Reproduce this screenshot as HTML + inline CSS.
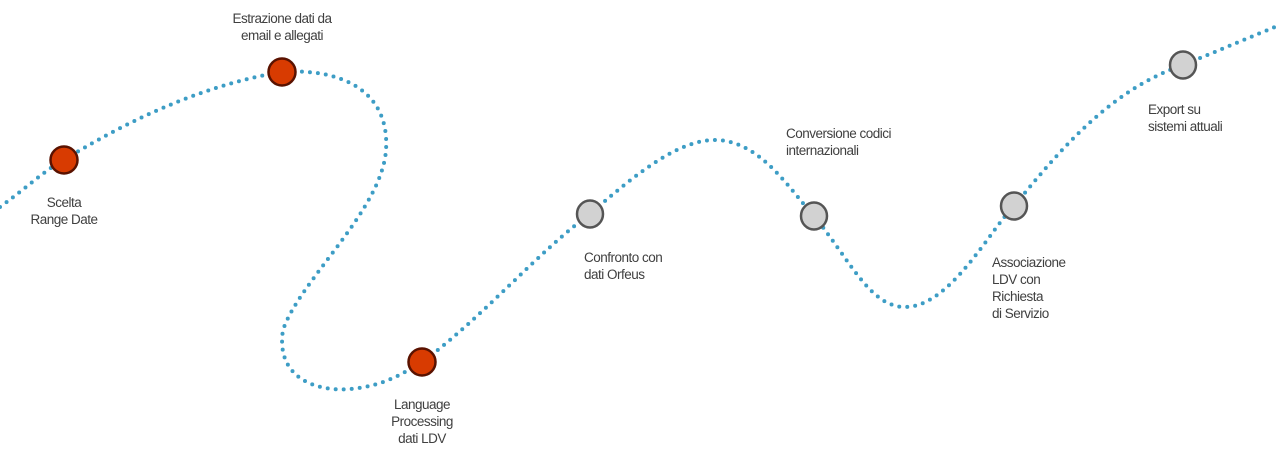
<!DOCTYPE html>
<html><head><meta charset="utf-8"><style>
html,body{margin:0;padding:0;background:#fff;}
svg{display:block;}
text{font-family:"Liberation Sans",sans-serif;font-size:13.5px;fill:#404040;letter-spacing:-0.5px;}
</style></head><body>
<svg width="1280" height="456" viewBox="0 0 1280 456">
<path d="M0,207 C30,185 45,170 64,160 C120,125 200,85 282,72 C340,68 390,90 386,150 C382,210 300,280 283,330 C275,380 320,392 350,389 C385,386 405,372 422,362 C480,320 540,250 590,214 C640,170 680,140 715,140 C760,140 790,190 814,216 C850,260 870,307 905,307 C950,307 990,230 1014,206 C1060,150 1110,90 1183,65 C1220,50 1255,35 1280,25" fill="none" stroke="#3d9dc5" stroke-width="4" stroke-linecap="round" stroke-dasharray="0 8"/>
<g fill="#d83b01" stroke="#5a1200" stroke-width="2.5">
<circle cx="64" cy="160" r="13.5"/>
<circle cx="282" cy="72" r="13.5"/>
<circle cx="422" cy="362" r="13.5"/>
</g>
<g fill="#d2d2d2" stroke="#555" stroke-width="2.5">
<ellipse cx="590" cy="214" rx="13" ry="13.5"/>
<ellipse cx="814" cy="216" rx="13" ry="13.5"/>
<ellipse cx="1014" cy="206" rx="13" ry="13.5"/>
<ellipse cx="1183" cy="65" rx="13" ry="13.5"/>
</g>
<g text-anchor="middle">
<text x="282" y="23">Estrazione dati da</text>
<text x="282" y="40">email e allegati</text>
<text x="64" y="207">Scelta</text>
<text x="64" y="224">Range Date</text>
<text x="422" y="409">Language</text>
<text x="422" y="426">Processing</text>
<text x="422" y="443">dati LDV</text>
</g>
<text x="584" y="262">Confronto con</text>
<text x="584" y="279">dati Orfeus</text>
<text x="786" y="138">Conversione codici</text>
<text x="786" y="155">internazionali</text>
<text x="992" y="267">Associazione</text>
<text x="992" y="284">LDV con</text>
<text x="992" y="301">Richiesta</text>
<text x="992" y="318">di Servizio</text>
<text x="1148" y="114">Export su</text>
<text x="1148" y="131">sistemi attuali</text>
</svg>
</body></html>
